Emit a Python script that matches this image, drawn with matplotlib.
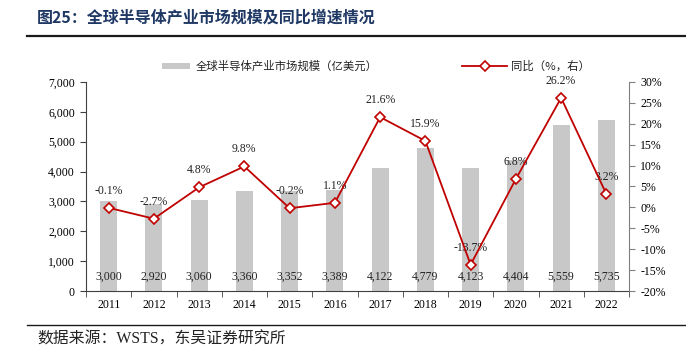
import matplotlib
matplotlib.use("Agg")
import matplotlib.pyplot as plt
from matplotlib.lines import Line2D
from matplotlib.patches import Rectangle
import numpy as np

years = ["2011", "2012", "2013", "2014", "2015", "2016", "2017", "2018", "2019", "2020", "2021", "2022"]
market = [3000, 2920, 3060, 3360, 3352, 3389, 4122, 4779, 4123, 4404, 5559, 5735]
yoy = [-0.1, -2.7, 4.8, 9.8, -0.2, 1.1, 21.6, 15.9, -13.7, 6.8, 26.2, 3.2]
bar_labels = ["3,000", "2,920", "3,060", "3,360", "3,352", "3,389", "4,122", "4,779", "4,123", "4,404", "5,559", "5,735"]
left_ticks = [0, 1000, 2000, 3000, 4000, 5000, 6000, 7000]
right_ticks = [-20, -15, -10, -5, 0, 5, 10, 15, 20, 25, 30]

CJK = ["Noto Sans CJK SC", "DejaVu Sans"]
SERIF = ["Liberation Serif", "Noto Sans CJK SC"]
W, H = 686, 353

fig = plt.figure(figsize=(6.86, 3.53), dpi=100)
ax = fig.add_axes([86/W, 1-291/H, (629-86)/W, (291-82)/H])
x = np.arange(len(years))

ax.bar(x, market, width=0.38, color="#C8C8C8", zorder=2)
ax.set_ylim(0, 7000)
ax.set_xlim(-0.5, len(years)-0.5)
ax.set_yticks(left_ticks)
ax.set_yticklabels([f"{v:,}" for v in left_ticks], family=SERIF, fontsize=8.5)
ax.set_xticks(x)
ax.set_xticklabels(years, family=SERIF, fontsize=8.5)
ax.tick_params(axis="x", length=0, pad=6)
ax.set_xticks(np.arange(len(years)+1)-0.5, minor=True)
ax.tick_params(axis="x", which="minor", length=4, direction="out", color="#404040")
ax.tick_params(axis="y", length=4, direction="out", color="#404040", pad=4)
for s in ["top", "right"]:
    ax.spines[s].set_visible(False)
ax.spines["left"].set_color("#404040")
ax.spines["bottom"].set_color("#404040")

for xi, lab in zip(x, bar_labels):
    ax.text(xi, 480, lab, ha="center", va="center", family=SERIF, fontsize=8.5, color="#222222", zorder=3)

ax2 = ax.twinx()
ax2.plot(x, yoy, color="#C00000", lw=1.3, marker="D", markersize=5,
         markerfacecolor="white", markeredgecolor="#C00000", markeredgewidth=1.2, zorder=4)
ax2.set_ylim(-20, 30)
ax2.set_yticks(right_ticks)
ax2.set_yticklabels([f"{v}%" for v in right_ticks], family=SERIF, fontsize=8.5)
ax2.tick_params(axis="y", length=4, direction="out", color="#808080", pad=4)
for s in ["top", "left", "bottom"]:
    ax2.spines[s].set_visible(False)
ax2.spines["right"].set_color("#808080")
for xi, v in zip(x, yoy):
    ax2.annotate(f"{v}%", (xi, v), xytext=(0, 8), textcoords="offset points",
                 ha="center", va="bottom", family=SERIF, fontsize=8.5, color="#222222")

# legend drawn manually
ly = 1 - 66/H
fig.add_artist(Rectangle((162/W, 1-69/H), 28/W, 6/H, transform=fig.transFigure,
                         facecolor="#C8C8C8", edgecolor="none"))
fig.text(196/W, ly, "全球半导体产业市场规模（亿美元）", family=CJK, fontsize=8.2,
         color="#222222", ha="left", va="center")
fig.add_artist(Line2D([462/W, 507/W], [ly, ly], color="#C00000", lw=1.3))
fig.add_artist(Line2D([484.5/W], [ly], color="#C00000", marker="D", markersize=5,
                      markerfacecolor="white", markeredgecolor="#C00000", markeredgewidth=1.2))
fig.text(511/W, ly, "同比（%，右）", family=CJK, fontsize=8.2,
         color="#222222", ha="left", va="center")

fig.text(37/W, 1-18/H, "图25：全球半导体产业市场规模及同比增速情况", family=CJK,
         fontsize=11.5, fontweight="bold", color="#1F3864", ha="left", va="center")
fig.add_artist(Line2D([27/W, 1], [1-36/H, 1-36/H], color="#1a1a1a", lw=1.6))
fig.add_artist(Line2D([27/W, 1], [1-325/H, 1-325/H], color="#1a1a1a", lw=1.0))
fig.text(37/W, 1-340/H, "数据来源：WSTS，东吴证券研究所", family=["Liberation Serif", "Noto Sans CJK SC"],
         fontsize=11.4, color="#222222", ha="left", va="center")

fig.savefig("out.png", dpi=100)
